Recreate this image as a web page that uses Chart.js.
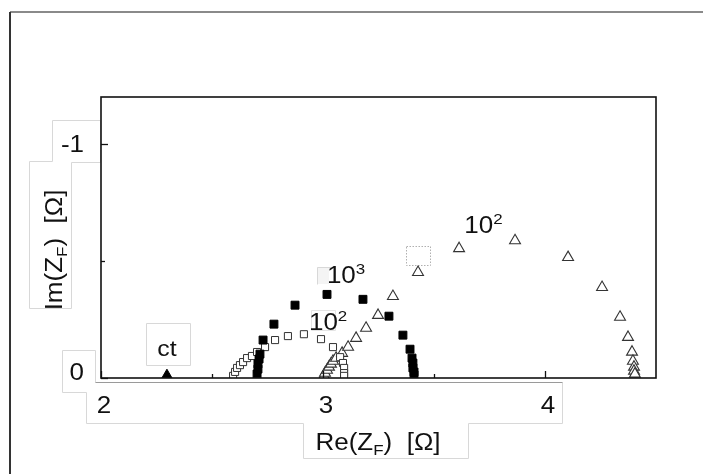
<!DOCTYPE html>
<html>
<head>
<meta charset="utf-8">
<script src="https://cdn.jsdelivr.net/npm/chart.js@4.4.1/dist/chart.umd.min.js"></script>
<style>
  html,body{margin:0;padding:0;background:#fff;}
  canvas{display:block;}
</style>
</head>
<body>
<canvas id="c" width="703" height="474"></canvas>
<script>
// ---- data (Re(Z_F), Im(Z_F)) in ohm ----
const ctRe = [2.297];
const ctIm = [-0.012];

const sq3Re = [2.703, 2.707, 2.707, 2.712, 2.716, 2.730, 2.779, 2.874, 3.018, 3.180, 3.297, 3.360, 3.392, 3.401, 3.405, 3.405, 3.410, 3.410];
const sq3Im = [-0.017, -0.038, -0.060, -0.081, -0.102, -0.162, -0.230, -0.311, -0.357, -0.336, -0.264, -0.183, -0.123, -0.085, -0.064, -0.043, -0.026, -0.013];

const sq2Re = [2.595, 2.604, 2.613, 2.626, 2.640, 2.658, 2.680, 2.703, 2.739, 2.784, 2.842, 2.914, 2.991, 3.045, 3.077, 3.090, 3.095, 3.095, 3.095];
const sq2Im = [-0.009, -0.026, -0.043, -0.055, -0.068, -0.085, -0.094, -0.111, -0.132, -0.162, -0.179, -0.187, -0.166, -0.132, -0.089, -0.064, -0.043, -0.021, -0.009];

const triRe = [3.005, 3.009, 3.018, 3.027, 3.036, 3.045, 3.059, 3.086, 3.113, 3.149, 3.194, 3.248, 3.315, 3.428, 3.613, 3.865, 4.104, 4.257, 4.338, 4.374, 4.392, 4.396, 4.401, 4.401, 4.405];
const triIm = [-0.009, -0.021, -0.034, -0.047, -0.060, -0.072, -0.085, -0.106, -0.132, -0.170, -0.213, -0.268, -0.349, -0.451, -0.553, -0.587, -0.515, -0.387, -0.260, -0.174, -0.111, -0.072, -0.047, -0.030, -0.017];

const xTicks = [2, 2.5, 3, 3.5, 4];
const xTickLabels = ['2', '', '3', '', '4'];
const yTicks = [0, -0.5, -1];
const yTickLabels = ['0', '', '-1'];

// annotation texts and anchors (data coordinates)
const notes = [
  {base: 'ct', sup: '', re: 2.297, im: -0.128},
  {base: '10', sup: '3', re: 3.104, im: -0.438},
  {base: '10', sup: '2', re: 3.023, im: -0.238},
  {base: '10', sup: '2', re: 3.723, im: -0.655}
];

const pts = (xs, ys) => xs.map((v, i) => ({x: v, y: ys[i]}));

const FONT = '"Liberation Sans", Arial, sans-serif';
const STRETCH = 1.13;

function textRuns(ctx, runs, x, y, align) {
  // runs: [{t, size, dy}]
  let w = 0;
  runs.forEach(r => { ctx.font = r.size + 'px ' + FONT; w += ctx.measureText(r.t).width; });
  ctx.save();
  ctx.translate(x, y);
  ctx.scale(STRETCH, 1);
  let sx = align === 'center' ? -w / 2 : (align === 'right' ? -w : 0);
  ctx.textBaseline = 'alphabetic';
  ctx.textAlign = 'left';
  runs.forEach(r => {
    ctx.font = r.size + 'px ' + FONT;
    ctx.fillText(r.t, sx, r.dy || 0);
    sx += ctx.measureText(r.t).width;
  });
  ctx.restore();
}

const decor = {
  id: 'decor',
  beforeDraw(chart) {
    const ctx = chart.ctx;
    ctx.save();
    ctx.fillStyle = '#fff';
    ctx.fillRect(0, 0, chart.width, chart.height);
    // outer frame
    ctx.strokeStyle = '#8a8a8a'; ctx.lineWidth = 2;
    ctx.beginPath(); ctx.moveTo(10, 12); ctx.lineTo(703, 12); ctx.stroke();
    ctx.strokeStyle = '#333'; ctx.lineWidth = 2;
    ctx.beginPath(); ctx.moveTo(10, 12); ctx.lineTo(10, 474); ctx.stroke();
    // faint pasted label boxes
    ctx.strokeStyle = '#d8d8d8'; ctx.lineWidth = 1;
    const poly = (p) => { ctx.beginPath(); ctx.moveTo(p[0][0]+0.5, p[0][1]+0.5); for (let i = 1; i < p.length; i++) ctx.lineTo(p[i][0]+0.5, p[i][1]+0.5); ctx.stroke(); };
    poly([[29, 308], [29, 161], [52, 161], [52, 120], [100, 120], [100, 162], [71, 162], [71, 308], [29, 308]]);
    poly([[86, 423], [86, 392], [62, 392], [62, 350], [95, 350], [95, 382]]);
    poly([[86, 423], [303, 423], [303, 458], [468, 458], [468, 423], [562, 423], [562, 382]]);
    poly([[146, 365], [146, 323], [190, 323], [190, 365], [146, 365]]);
    ctx.fillStyle = '#f4f4f4';
    ctx.fillRect(317, 267, 12, 17);
    poly([[317, 284], [317, 267], [331, 267]]);
    ctx.strokeStyle = '#e4e4e4';
    poly([[311, 330], [311, 310], [335, 310], [335, 330], [311, 330]]);
    ctx.setLineDash([1.5, 1.5]); ctx.strokeStyle = '#b0b0b0';
    poly([[406, 246], [430, 246], [430, 265], [406, 265], [406, 246]]);
    ctx.setLineDash([]);
    // gray line under the x axis
    ctx.strokeStyle = '#9a9a9a';
    poly([[95, 382], [562, 382]]);
    ctx.restore();
  },
  afterDraw(chart) {
    const ctx = chart.ctx;
    const xs = chart.scales.x, ys = chart.scales.y;
    const a = chart.chartArea;
    ctx.save();
    // axis box
    ctx.strokeStyle = '#111'; ctx.lineWidth = 1.6;
    ctx.strokeRect(a.left, a.top, a.right - a.left, a.bottom - a.top);
    // inward ticks
    ctx.lineWidth = 1.3;
    xTicks.forEach((v, i) => {
      const px = Math.round(xs.getPixelForValue(v)) + 0.5;
      const len = xTickLabels[i] ? 7 : 4;
      ctx.beginPath(); ctx.moveTo(px, a.bottom); ctx.lineTo(px, a.bottom - len); ctx.stroke();
    });
    yTicks.forEach((v, i) => {
      const py = Math.round(ys.getPixelForValue(v)) + 0.5;
      const len = yTickLabels[i] ? 7 : 4;
      ctx.beginPath(); ctx.moveTo(a.left, py); ctx.lineTo(a.left + len, py); ctx.stroke();
    });
    // tick labels
    ctx.fillStyle = '#111';
    xTicks.forEach((v, i) => {
      if (!xTickLabels[i]) return;
      textRuns(ctx, [{t: xTickLabels[i], size: 23}], xs.getPixelForValue(v) + 3, a.bottom + 35, 'center');
    });
    yTicks.forEach((v, i) => {
      if (!yTickLabels[i]) return;
      const dy = v === 0 ? -6 : 0;
      textRuns(ctx, [{t: yTickLabels[i], size: 23}], 84, ys.getPixelForValue(v) + 8 + dy, 'right');
    });
    // axis titles
    textRuns(ctx, [{t: 'Re(Z', size: 23}, {t: 'F', size: 15, dy: 5}, {t: ')  [Ω]', size: 23}], 378, 450, 'center');
    ctx.save();
    ctx.translate(62, 250);
    ctx.rotate(-Math.PI / 2);
    textRuns(ctx, [{t: 'Im(Z', size: 23}, {t: 'F', size: 15, dy: 5}, {t: ')  [Ω]', size: 23}], 0, 0, 'center');
    ctx.restore();
    // annotations
    notes.forEach(n => {
      const px = xs.getPixelForValue(n.re), py = ys.getPixelForValue(n.im);
      const runs = [{t: n.base, size: n.sup ? 23 : 22}];
      if (n.sup) runs.push({t: n.sup, size: 15, dy: -9});
      textRuns(ctx, runs, px, py + 8, 'center');
    });
    ctx.restore();
  }
};

new Chart(document.getElementById('c'), {
  type: 'scatter',
  data: {
    datasets: [
      {label: 'ct', data: pts(ctRe, ctIm), pointStyle: 'triangle', pointRadius: 6, backgroundColor: '#000', borderColor: '#000', borderWidth: 1},
      {label: '10^3', data: pts(sq3Re, sq3Im), pointStyle: 'rect', pointRadius: 5.6, backgroundColor: '#000', borderColor: '#000', borderWidth: 1},
      {label: '10^2 small', data: pts(sq2Re, sq2Im), pointStyle: 'rect', pointRadius: 5, backgroundColor: '#fff', borderColor: '#333', borderWidth: 1},
      {label: '10^2 large', data: pts(triRe, triIm), pointStyle: 'triangle', pointRadius: 6.3, backgroundColor: '#fff', borderColor: '#333', borderWidth: 1.1}
    ]
  },
  options: {
    responsive: false,
    animation: false,
    devicePixelRatio: 1,
    layout: {padding: {left: 101, right: 47, top: 97, bottom: 96}},
    plugins: {legend: {display: false}, tooltip: {enabled: false}},
    scales: {
      x: {type: 'linear', min: 2, max: 4.5, display: false},
      y: {type: 'linear', min: -1.2, max: 0, reverse: true, display: false}
    }
  },
  plugins: [decor]
});
</script>
</body>
</html>
